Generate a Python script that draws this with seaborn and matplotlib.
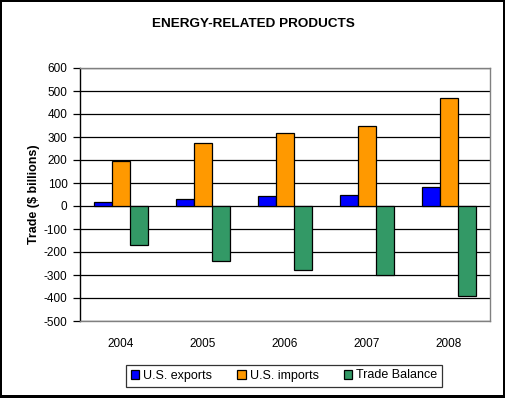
import matplotlib
matplotlib.use("Agg")
import matplotlib.pyplot as plt
from matplotlib.patches import Rectangle
import numpy as np
import pandas as pd
import seaborn as sns

sns.set_theme(style="white")
plt.rcParams['font.family'] = ['Liberation Sans', 'DejaVu Sans']
plt.rcParams['text.color'] = 'black'
plt.rcParams['xtick.color'] = 'black'
plt.rcParams['ytick.color'] = 'black'
plt.rcParams['axes.labelcolor'] = 'black'
plt.rcParams['axes.unicode_minus'] = False

# values ($ billions)
years = ['2004', '2005', '2006', '2007', '2008']
us_exports = [19, 29, 43, 48, 83]
us_imports = [196, 272, 316, 346, 468]
trade_balance = [-171, -240, -280, -299, -390]

series = ['U.S. exports', 'U.S. imports', 'Trade Balance']
colors = ['#0000FF', '#FF9900', '#339966']

df = pd.DataFrame({
    'year': years * 3,
    'series': [series[0]] * 5 + [series[1]] * 5 + [series[2]] * 5,
    'value': us_exports + us_imports + trade_balance,
})

W, H = 506, 398
fig = plt.figure(figsize=(W / 100, H / 100), dpi=100)
fig.patch.set_facecolor('black')
# white inner panel, leaves the black frame (thicker at right/bottom)
fig.patches.append(Rectangle((2 / W, 3 / H), 501 / W, 393 / H, transform=fig.transFigure,
                             facecolor='white', edgecolor='none', zorder=-5))

ax = fig.add_axes([80 / W, 1 - 321 / H, 410 / W, 253 / H])
sns.barplot(data=df, x='year', y='value', hue='series', palette=colors,
            width=0.67, gap=0, edgecolor='black', linewidth=0.9,
            saturation=1, ax=ax, zorder=3)

ax.set_ylim(-500, 600)
ax.set_xlim(-0.5, 4.5)
ax.set_yticks(np.arange(-500, 601, 100))
ax.set_axisbelow(True)
ax.yaxis.grid(True, color='black', linewidth=0.9)
ax.xaxis.grid(False)

for side in ['top', 'right', 'bottom']:
    ax.spines[side].set_color('#808080')
    ax.spines[side].set_linewidth(1.0)
ax.spines['left'].set_color('black')
ax.spines['left'].set_linewidth(1.0)

ax.tick_params(axis='y', length=5, width=0.9, color='black', direction='out',
               labelsize=8.5, pad=4, left=True)
ax.tick_params(axis='x', length=0, labelsize=8.5, pad=12)
ax.set_xlabel('')
ax.set_ylabel('Trade ($ billions)', fontsize=9, fontweight='bold', labelpad=3)

fig.text(253 / W, 1 - 24 / H, 'ENERGY-RELATED PRODUCTS', ha='center', va='center',
         fontsize=9.7, fontweight='bold')

handles, labels = ax.get_legend_handles_labels()
ax.get_legend().remove()
leg = fig.legend(handles, labels, loc='center', bbox_to_anchor=(284 / W, 1 - 375.5 / H),
                 ncol=3, frameon=True, fancybox=False, edgecolor='black', fontsize=9,
                 handlelength=0.7, handleheight=0.7, handletextpad=0.3,
                 columnspacing=2.0, borderpad=0.4)
leg.get_frame().set_linewidth(0.9)

fig.savefig('out.png', dpi=100, facecolor=fig.get_facecolor())
